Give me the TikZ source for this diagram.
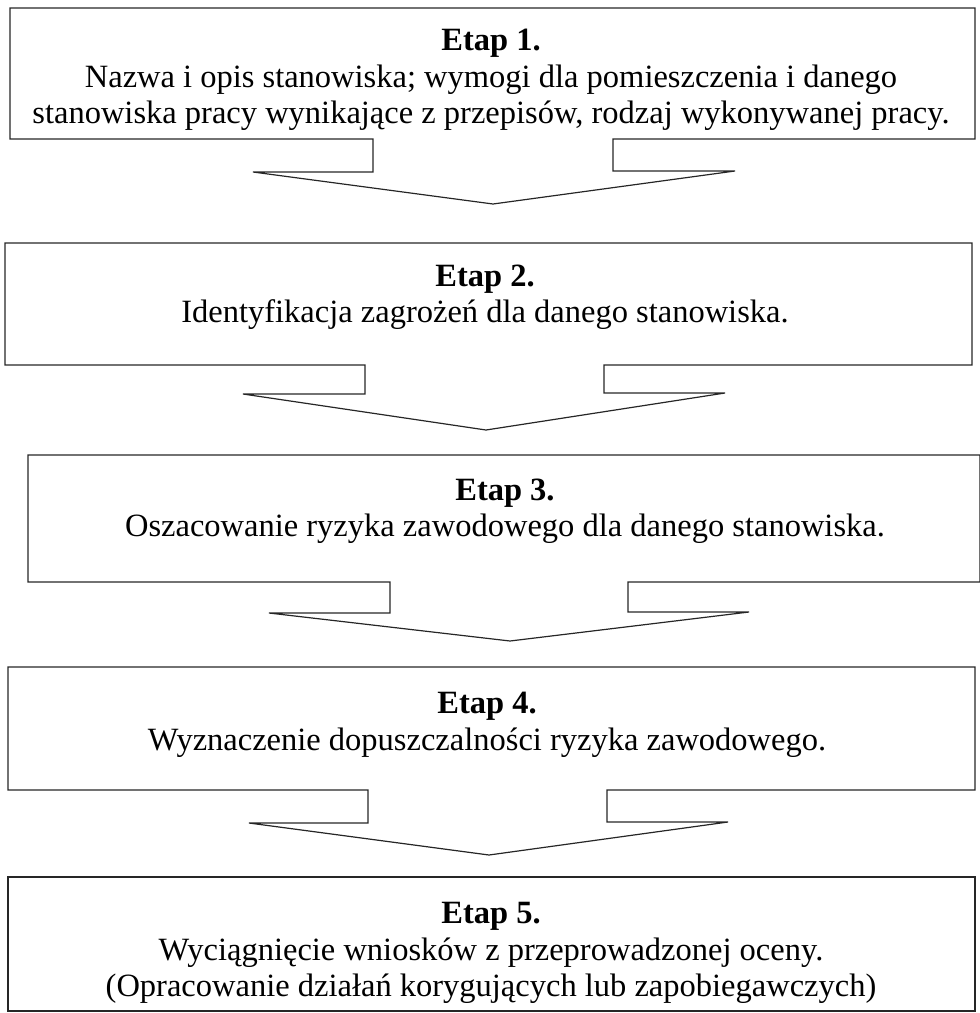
\documentclass[tikz,border=0pt]{standalone}
\usepackage{fontspec}
\setmainfont{Liberation Serif}
\begin{document}
\begin{tikzpicture}[x=1pt,y=-1pt,
  outline/.style={draw=black!85,line width=1.2pt,line join=miter},
  stagetext/.style={align=center,inner sep=0pt,font=\fontsize{32.5}{36.5}\selectfont,anchor=center}]
\useasboundingbox (0,0) rectangle (980,1013);
% stage 1
\draw[outline] (10,8) -- (975,8) -- (975,139) -- (613,139) -- (613,171) -- (735,171)
  -- (493,204) -- (253,172) -- (373,172) -- (373,139) -- (10,139) -- cycle;
\node[stagetext] (s1) at (491,80) {\textbf{Etap 1.}\\Nazwa i opis stanowiska; wymogi dla pomieszczenia i danego\\stanowiska pracy wynikające z przepisów, rodzaj wykonywanej pracy.};
% stage 2
\draw[outline] (5,243) -- (972,243) -- (972,365) -- (604,365) -- (604,393) -- (725,393)
  -- (486,430) -- (243,394) -- (365,394) -- (365,365) -- (5,365) -- cycle;
\node[stagetext] (s2) at (485,297) {\textbf{Etap 2.}\\Identyfikacja zagrożeń dla danego stanowiska.};
% stage 3
\draw[outline] (28,455) -- (980,455) -- (980,582) -- (628,582) -- (628,612) -- (749,612)
  -- (510,641) -- (269,613) -- (390,613) -- (390,582) -- (28,582) -- cycle;
\node[stagetext] (s3) at (505,511) {\textbf{Etap 3.}\\Oszacowanie ryzyka zawodowego dla danego stanowiska.};
% stage 4
\draw[outline] (8,667) -- (975,667) -- (975,790) -- (607,790) -- (607,822) -- (728,822)
  -- (489,855) -- (249,823) -- (368,823) -- (368,790) -- (8,790) -- cycle;
\node[stagetext] (s4) at (487,725) {\textbf{Etap 4.}\\Wyznaczenie dopuszczalności ryzyka zawodowego.};
% stage 5
\draw[outline] (8,877) rectangle (975,1011);
\node[stagetext] (s5) at (491,953) {\textbf{Etap 5.}\\Wyciągnięcie wniosków z przeprowadzonej oceny.\\(Opracowanie działań korygujących lub zapobiegawczych)};
\end{tikzpicture}
\end{document}
